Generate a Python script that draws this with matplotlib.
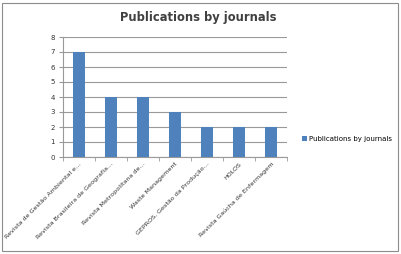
import numpy as np
import matplotlib.pyplot as plt
from matplotlib.patches import Rectangle

journals = ["Revista de Gestão Ambiental e…", "Revista Brasileira de Geografia…",
            "Revista Metropolitana de…", "Waste Management",
            "GEPROS. Gestão da Produção…", "HOLOS", "Revista Gaúcha de Enfermagem"]
counts = [7, 4, 4, 3, 2, 2, 2]
yticks = list(range(0, 9))

W, H = 402, 254
fig = plt.figure(figsize=(W / 100, H / 100), dpi=100)
fig.patch.set_facecolor("white")

# outer chart border
fig.add_artist(Rectangle((2 / W, 3 / H), 396 / W, 248 / H, transform=fig.transFigure,
                         fill=False, edgecolor="#8c8c8c", linewidth=0.8))

ax = fig.add_axes([63 / W, 1 - 157 / H, 224 / W, 120 / H])
x = np.arange(len(journals))
bars = ax.bar(x, counts, width=0.4, color="#4f81bd", zorder=3, label="Publications by journals")

ax.set_xlim(-0.5, len(journals) - 0.5)
ax.set_ylim(0, 8)
ax.set_yticks(yticks)
ax.set_yticklabels([str(v) for v in yticks], fontsize=5, color="#333333")
ax.yaxis.grid(True, color="#999999", linewidth=0.8, zorder=0)
ax.set_xticks(x)
ax.set_xticklabels(journals, rotation=45, ha="right", rotation_mode="anchor",
                   fontsize=4.6, color="#333333")
ax.tick_params(axis="x", length=0, pad=3)
ax.tick_params(axis="y", length=3, color="#999999", pad=3)
# tick marks between categories
ax.set_xticks(np.arange(-0.5, len(journals)), minor=True)
ax.tick_params(axis="x", which="minor", length=3, color="#999999")

for s in ["top", "right"]:
    ax.spines[s].set_visible(False)
for s in ["left", "bottom"]:
    ax.spines[s].set_color("#999999")
    ax.spines[s].set_linewidth(0.8)

fig.text(198 / W, 1 - 18 / H, "Publications by journals", ha="center", va="center",
         fontsize=8.3, fontweight="bold", color="#404040")

fig.legend(handles=[bars], loc="center left", bbox_to_anchor=(299 / W, 1 - 139 / H),
           frameon=False, fontsize=5, handlelength=0.6, handleheight=0.6,
           handletextpad=0.4, borderpad=0)

fig.savefig("out.png", dpi=100)
